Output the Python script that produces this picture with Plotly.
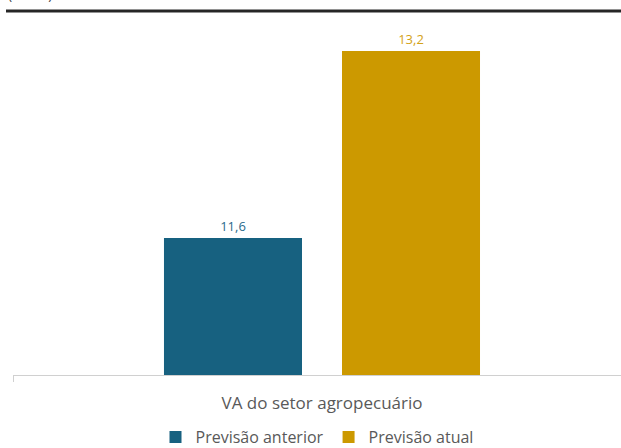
import plotly.graph_objects as go

categories = ["VA do setor agropecuário"]
series_names = ["Previsão anterior", "Previsão atual"]
values_anterior = [11.6]
values_atual = [13.2]
bar_colors = ["#176180", "#CC9900"]
label_colors = ["#2A6A8C", "#D4A216"]

W, H = 621, 448
L, R, T, B = 13, 0, 20, 73
plot_h = H - T - B
plot_w = W - L - R

fig = go.Figure()
for name, vals, c, lc in zip(series_names, [values_anterior, values_atual], bar_colors, label_colors):
    fig.add_trace(go.Bar(
        x=categories, y=vals, name=name,
        marker=dict(color=c, line=dict(width=0)),
        texttemplate="%{y:.1f}", textposition="outside",
        textfont=dict(family="Open Sans", size=13, color=lc),
        cliponaxis=False,
    ))

def py(pix):
    return (H - B - pix) / plot_h

def px(pix):
    return (pix - L) / plot_w

fig.update_layout(
    width=W, height=H,
    margin=dict(l=L, r=R, t=T, b=B, autoexpand=False),
    paper_bgcolor="white", plot_bgcolor="white",
    separators=",.",
    barmode="group", bargap=0.4239, bargroupgap=0.2247,
    showlegend=True,
    legend=dict(orientation="h", x=0.5, xanchor="center", y=py(437), yanchor="middle",
                font=dict(family="Open Sans", size=16, color="#595959"),
                traceorder="normal", itemwidth=30),
    xaxis=dict(range=[-0.5, 0.48382], showline=True, linecolor="#D0D0D0", linewidth=1,
               ticks="outside", tickson="boundaries", ticklen=6, tickcolor="#D0D0D0",
               tickfont=dict(family="Open Sans", size=17, color="#595959"),
               showgrid=False, zeroline=False, ticklabelstandoff=13),
    yaxis=dict(range=[10.428, 10.428 + plot_h / 116.875], visible=False, showgrid=False),
    shapes=[dict(type="line", xref="paper", yref="paper", x0=px(6), x1=px(621),
                 y0=py(11), y1=py(11), line=dict(color="#262626", width=3))],
    annotations=[dict(text="(em %)", xref="paper", yref="paper", x=px(6), xanchor="left",
                      y=py(5), yanchor="bottom", showarrow=False,
                      font=dict(family="Open Sans", size=14, color="#404040"))],
)

fig.write_html("out.html", config={"displayModeBar": False},
               post_script="document.body.style.margin='0';document.body.style.overflow='hidden';")
